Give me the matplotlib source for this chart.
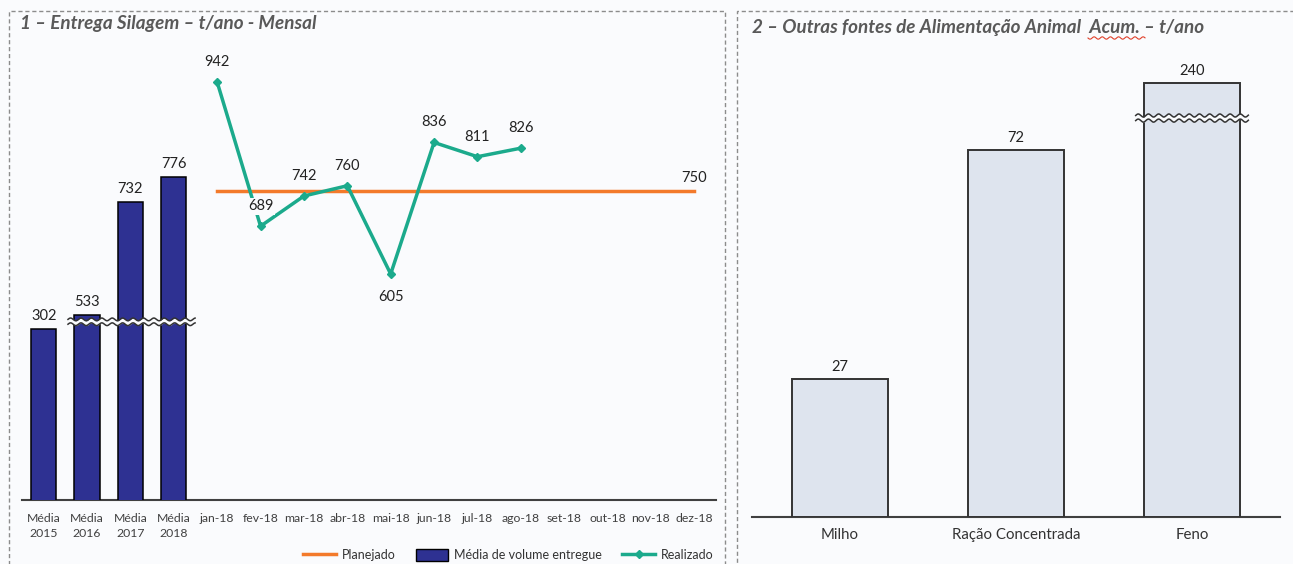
import numpy as np
import matplotlib
matplotlib.use("Agg")
from matplotlib import pyplot as plt
from matplotlib.patches import Rectangle
from matplotlib.lines import Line2D

plt.rcParams['font.family'] = ['Lato', 'DejaVu Sans']

# painel 1 - entrega silagem
media_labels = ['Média\n2015', 'Média\n2016', 'Média\n2017', 'Média\n2018']
media_vals = [302, 533, 732, 776]
media_shown = [508, 533, 732, 776]   # 2015 aparece "quebrado" no original
meses = ['jan-18', 'fev-18', 'mar-18', 'abr-18', 'mai-18', 'jun-18',
         'jul-18', 'ago-18', 'set-18', 'out-18', 'nov-18', 'dez-18']
realizado = [942, 689, 742, 760, 605, 836, 811, 826]
planejado = 750

# painel 2 - outras fontes
fontes = ['Milho', 'Ração Concentrada', 'Feno']
fontes_vals = [27, 72, 240]
fontes_shown = [27, 72, 85.1]

BG = '#FAFBFD'
NAVY = '#2E3192'
TEAL = '#1BAA8C'
ORANGE = '#F37A2B'
GRAY_TXT = '#595959'

W, H = 1293, 564
fig = plt.figure(figsize=(W / 100, H / 100), dpi=100, facecolor=BG)


def px_box(x0, y0, x1, y1):
    # pixel coords (top-left origin) -> figure fraction
    return [x0 / W, 1 - y1 / H, (x1 - x0) / W, (y1 - y0) / H]


def wavy(ax, x0, x1, yc, gap, amp, period):
    x = np.linspace(x0, x1, 300)
    w = amp * np.sin(2 * np.pi * (x - x0) / period)
    ax.fill_between(x, yc - gap / 2 + w, yc + gap / 2 + w, color=BG, zorder=5, lw=0)
    ax.plot(x, yc + gap / 2 + w, color='#333333', lw=1.1, zorder=6)
    ax.plot(x, yc - gap / 2 + w, color='#333333', lw=1.1, zorder=6)


def label(ax, txt, xy, dy, fs=10.5):
    ax.annotate(txt, xy, xytext=(0, dy), textcoords='offset pixels',
                ha='center', va='center', fontsize=fs, color='#222222', zorder=7,
                bbox=dict(boxstyle='square,pad=0.1', facecolor=BG, edgecolor='none'))


# molduras tracejadas
for (x0, x1) in [(9, 725), (737, 1300)]:
    fig.patches.append(Rectangle((x0 / W, -0.05), (x1 - x0) / W, 1 - 11 / H + 0.05,
                                 transform=fig.transFigure, fill=False,
                                 edgecolor='#8C8C8C', lw=1, ls=(0, (3, 2))))

# ---------------- painel 1 ----------------
ax1 = fig.add_axes(px_box(22, 40, 716, 500))
ax1.set_facecolor(BG)
n_m = len(media_labels)
xb = np.arange(n_m)
xm = np.arange(n_m, n_m + len(meses))

ax1.bar(xb, media_shown, width=0.58, color=NAVY, edgecolor='black', lw=1.1, zorder=3)
for x, v, s in zip(xb, media_vals, media_shown):
    label(ax1, str(v), (x, s), 13)

ax1.plot([xm[0], xm[-1]], [planejado, planejado], color=ORANGE, lw=2.5, zorder=3)
label(ax1, str(planejado), (xm[-1], planejado), 13)

xr = xm[:len(realizado)]
ax1.plot(xr, realizado, color=TEAL, lw=2.5, marker='D', ms=4, zorder=4)
for x, v in zip(xr, realizado):
    off = -23 if v == min(realizado) else 20
    label(ax1, str(v), (x, v), off)

wavy(ax1, 0.56, 3.49, 521, 8.5, 2.4, 0.24)

ax1.set_xlim(-0.5, n_m + len(meses) - 0.5)
ax1.set_ylim(208, 1016)
ax1.set_xticks(np.concatenate([xb, xm]))
ax1.set_xticklabels(media_labels + meses, fontsize=8.8, color='#404040', linespacing=1.45)
ax1.tick_params(length=0, pad=9)
ax1.set_yticks([])
for s in ['top', 'left', 'right']:
    ax1.spines[s].set_visible(False)
ax1.spines['bottom'].set_color('#404040')
ax1.spines['bottom'].set_linewidth(1.5)

fig.text(20 / W, 1 - 24 / H, '1 – Entrega Silagem – t/ano - Mensal', fontsize=13.6,
         fontweight='bold', fontstyle='italic', color=GRAY_TXT, va='center')

handles = [Line2D([], [], color=ORANGE, lw=2.5),
           Rectangle((0, 0), 1, 1, facecolor=NAVY, edgecolor='black', lw=1),
           Line2D([], [], color=TEAL, lw=2.5, marker='D', ms=4)]
fig.legend(handles, ['Planejado', 'Média de volume entregue', 'Realizado'],
           loc='center right', bbox_to_anchor=(720 / W, 9 / H), ncol=3, frameon=False,
           fontsize=9, handlelength=2.6, handleheight=1.2, columnspacing=1.6,
           handletextpad=0.5, labelcolor='#333333', borderpad=0)

# ---------------- painel 2 ----------------
ax2 = fig.add_axes(px_box(752, 40, 1280, 517))
ax2.set_facecolor(BG)
xf = np.arange(len(fontes))
ax2.bar(xf, fontes_shown, width=0.55, color='#DEE4EE', edgecolor='#333333', lw=1.4, zorder=3)
for x, v, s in zip(xf, fontes_vals, fontes_shown):
    label(ax2, str(v), (x, s), 12)
wavy(ax2, 2 - 0.32, 2 + 0.32, 78.2, 1.0, 0.3, 0.058)

ax2.set_xlim(-0.5, 2.5)
ax2.set_ylim(0, 93.5)
ax2.set_xticks(xf)
ax2.set_xticklabels(fontes, fontsize=10.8, color='#333333')
ax2.tick_params(length=0, pad=8)
ax2.set_yticks([])
for s in ['top', 'left', 'right']:
    ax2.spines[s].set_visible(False)
ax2.spines['bottom'].set_color('#404040')
ax2.spines['bottom'].set_linewidth(1.5)

fig.text(752 / W, 1 - 27 / H, '2 – Outras fontes de Alimentação Animal  Acum. – t/ano',
         fontsize=13.6, fontweight='bold', fontstyle='italic', color=GRAY_TXT, va='center')
# sublinhado ondulado vermelho (corretor ortográfico) sob "Acum."
xs = np.linspace(1088, 1145, 60)
fig.add_artist(Line2D(xs / W, 1 - (38 + 1.2 * np.sin((xs - 1088) / 1.3)) / H,
                      color='#E0402A', lw=0.8, transform=fig.transFigure))

fig.savefig('out.png', dpi=100, facecolor=BG)
